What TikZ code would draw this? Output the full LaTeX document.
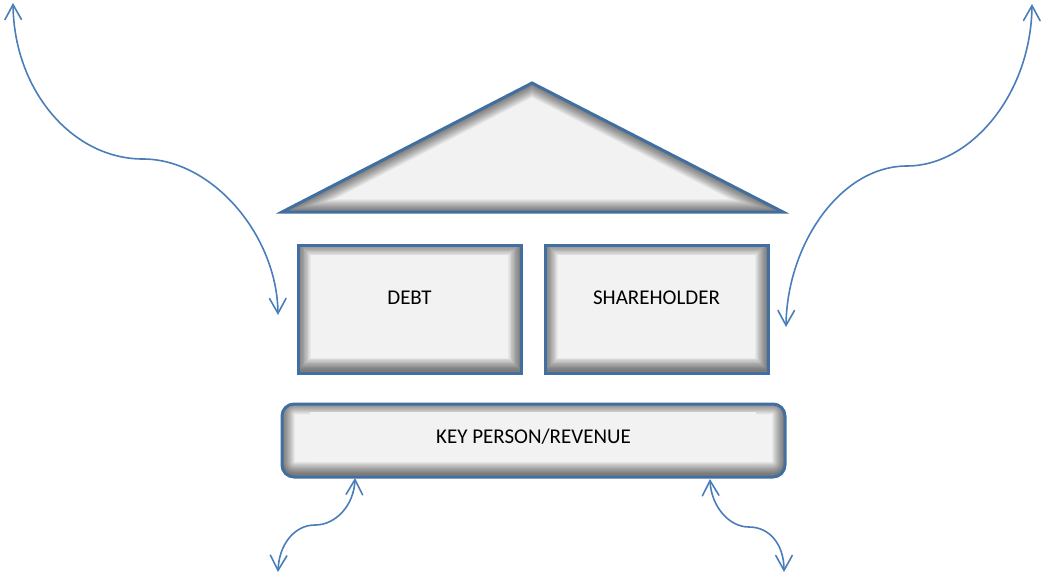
\documentclass[tikz,border=0pt]{standalone}
\usepackage{fontspec}
\setmainfont{Carlito}
\usetikzlibrary{arrows.meta}
\definecolor{edgeblue}{RGB}{64,111,160}
\definecolor{arrowblue}{RGB}{74,126,187}
\definecolor{panel}{RGB}{242,242,242}
\tikzset{
  glowrect/.style={path picture={
    \foreach \i in {1,...,16}{
      \draw[line width=1.6*\i pt, black, opacity=0.04, rounded corners=#1]
        ([yshift=2.5pt]path picture bounding box.south west) rectangle
        ([yshift=2.5pt]path picture bounding box.north east);
    }}},
  block/.style={draw=edgeblue, line width=3pt, fill=panel, inner sep=0pt,
    font=\fontsize{21}{24}\selectfont, text=black},
  link/.style={draw=arrowblue, line width=1.6pt,
    {Straight Barb[angle=58:17pt, line cap=round]}-{Straight Barb[angle=58:17pt, line cap=round]}}
}
\begin{document}
\begin{tikzpicture}[x=1pt,y=-1pt]
\useasboundingbox (0,0) rectangle (1041,574);

% roof
\coordinate (roofL) at (282,212);
\coordinate (roofT) at (532,83);
\coordinate (roofR) at (783,212);
\begin{scope}
  \clip (roofL) -- (roofT) -- (roofR) -- cycle;
  \fill[panel] (roofL) -- (roofT) -- (roofR) -- cycle;
  \foreach \i in {1,...,16}{
    \draw[line width=1.6*\i pt, black, opacity=0.04, line join=round, yshift=2.5pt]
      (roofL) -- (roofT) -- (roofR) -- cycle;
  }
\end{scope}
\draw[edgeblue, line width=3pt, line join=miter] (roofL) -- (roofT) -- (roofR) -- cycle;

% pillars
\node[block, glowrect=0pt, minimum width=223pt, minimum height=128pt]
  (debt) at (409.5,309) {\raisebox{5pt}[0pt][0pt]{DEBT}};
\node[block, glowrect=0pt, minimum width=223pt, minimum height=128pt]
  (share) at (656.5,309) {\raisebox{5pt}[0pt][0pt]{SHAREHOLDER}};

% foundation
\node[block, rounded corners=12pt, glowrect=12pt, minimum width=503pt, minimum height=73pt]
  (key) at (533.5,440.5) {};
\fill[panel] (310,412) rectangle (756,462);
\node[font=\fontsize{21}{24}\selectfont, inner sep=0pt, anchor=base] (keytext) at (533.5,443) {KEY PERSON/REVENUE};

% arrow end points
\coordinate (tlA) at (13,3);
\coordinate (tlB) at (278,315);
\coordinate (trA) at (1032,4);
\coordinate (trB) at (786,327);
\coordinate (blA) at (355,478);
\coordinate (blB) at (278,572);
\coordinate (brA) at (710,479);
\coordinate (brB) at (784,572);

\draw[link] (tlA) .. controls (14,90) and (72,159) .. (143,159)
                  .. controls (212,159) and (277,235) .. (tlB);
\draw[link] (trA) .. controls (1031,95) and (970,166) .. (907,166)
                  .. controls (840,166) and (787,245) .. (trB);
\draw[link] (blA) .. controls (354,505) and (336,525) .. (315,525)
                  .. controls (294,525) and (279,545) .. (blB);
\draw[link] (brA) .. controls (711,505) and (728,527) .. (749,527)
                  .. controls (770,527) and (784,545) .. (brB);
\end{tikzpicture}
\end{document}
